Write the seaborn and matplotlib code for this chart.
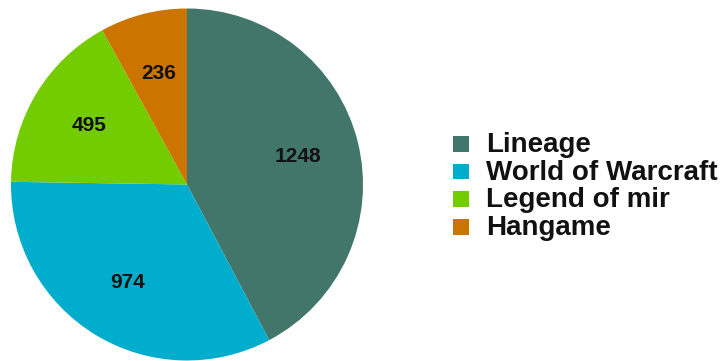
import matplotlib
matplotlib.use("Agg")
import matplotlib.pyplot as plt
import seaborn as sns
from matplotlib.patches import Rectangle

categories = ["Lineage", "World of Warcraft", "Legend of mir", "Hangame"]
values = [1248, 974, 495, 236]
colors = ["#43766a", "#00adcc", "#73cc00", "#cc7400"]

sns.set_style("white")
plt.rcParams["font.family"] = ["Liberation Sans", "DejaVu Sans"]

W, H = 725, 361
fig = plt.figure(figsize=(W / 100, H / 100), dpi=100)
cx, cy, r = 187, 184.5, 176
ax = fig.add_axes([(cx - r) / W, (H - cy - r) / H, 2 * r / W, 2 * r / H])

palette = sns.color_palette(colors)
wedges, texts = ax.pie(
    values, colors=palette, startangle=90, counterclock=False,
    labels=[str(v) for v in values], labeldistance=0.65, radius=1,
    wedgeprops=dict(linewidth=0),
    textprops=dict(fontsize=15, fontweight="bold", color="#111111", ha="center", va="center"),
)
ax.set_xlim(-1, 1)
ax.set_ylim(-1, 1)
ax.set_aspect("equal")
ax.axis("off")

# legend (manually laid out to match the reference spacing)
step = 27.7
for i, (name, col) in enumerate(zip(categories, palette)):
    top = 136 + step * i
    fig.patches.append(Rectangle((453 / W, 1 - (top + 15.5) / H), 16 / W, 15.5 / H,
                                 transform=fig.transFigure, facecolor=col,
                                 edgecolor="none", figure=fig))
    fig.text(486 / W, 1 - (top + 16) / H, name, fontsize=20, fontweight="bold",
             color="#111111", ha="left", va="baseline")

fig.savefig("out.png", dpi=100)
